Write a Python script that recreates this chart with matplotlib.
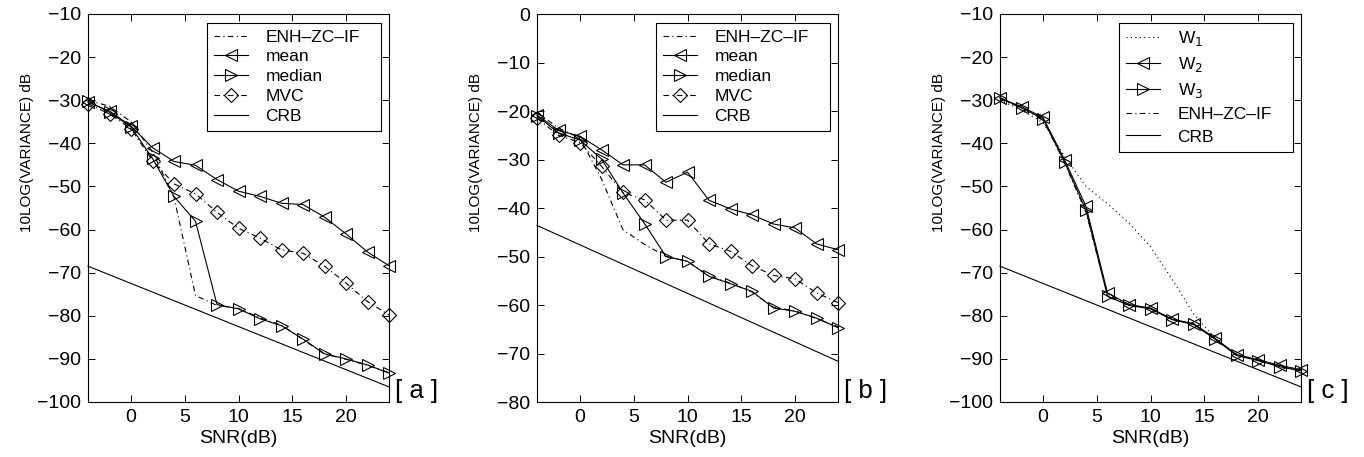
import matplotlib
matplotlib.use("Agg")
import matplotlib.pyplot as plt

plt.rcParams['font.family'] = ['Liberation Sans', 'DejaVu Sans']

snr = [-4, -2, 0, 2, 4, 6, 8, 10, 12, 14, 16, 18, 20, 22, 24]

# Panel a
enh_a = [-30.0, -31.4, -35.0, -42.0, -52.5, -75.3, -77.6, -78.3, -80.5, -82.2, -85.5, -88.9, -90.1, -91.5, -93.2]
mean_a = [-30.5, -32.5, -36.0, -41.0, -44.2, -45.1, -48.4, -51.1, -52.3, -53.9, -54.2, -57.1, -61.0, -65.2, -68.4]
median_a = [-30.2, -32.8, -36.2, -43.5, -52.3, -58.1, -77.4, -78.4, -80.7, -82.3, -85.4, -88.8, -90.0, -91.4, -93.3]
mvc_a = [-30.8, -33.2, -36.6, -44.0, -49.4, -51.7, -56.0, -59.7, -62.0, -64.7, -65.5, -68.5, -72.4, -76.7, -79.8]
crb_a = [-68.5, -70.5, -72.5, -74.5, -76.5, -78.5, -80.5, -82.5, -84.5, -86.5, -88.5, -90.5, -92.5, -94.5, -96.5]

# Panel b
enh_b = [-20.3, -23.5, -25.6, -34.0, -44.5, -47.5, -50.0, -51.0, -54.0, -55.5, -57.3, -60.5, -61.2, -62.8, -64.5]
mean_b = [-20.8, -24.0, -25.2, -28.0, -31.1, -31.1, -34.7, -32.6, -38.4, -40.2, -41.4, -43.3, -44.1, -47.4, -48.6]
median_b = [-21.0, -24.5, -26.0, -29.9, -36.9, -43.2, -50.0, -51.0, -54.1, -55.6, -57.2, -60.6, -61.3, -62.7, -64.7]
mvc_b = [-21.5, -25.0, -26.5, -31.4, -36.8, -38.3, -42.5, -42.5, -47.4, -48.9, -51.9, -53.9, -54.6, -57.5, -59.5]
crb_b = [-43.6, -45.6, -47.6, -49.6, -51.6, -53.6, -55.6, -57.6, -59.6, -61.6, -63.6, -65.6, -67.6, -69.6, -71.6]

# Panel c
w1_c = [-30.0, -32.3, -35.2, -43.0, -50.0, -54.0, -58.5, -64.0, -71.5, -79.5, -85.2, -89.0, -90.2, -91.6, -92.6]
w2_c = [-29.5, -31.5, -34.0, -43.8, -54.6, -74.7, -77.4, -78.2, -80.8, -81.8, -85.2, -89.0, -90.2, -91.5, -92.5]
w3_c = [-29.4, -31.8, -34.3, -44.3, -55.5, -75.5, -77.6, -78.4, -80.9, -82.0, -85.4, -89.2, -90.4, -91.8, -92.8]
enh_c = [-29.8, -31.7, -34.5, -44.5, -56.0, -75.0, -77.5, -78.3, -80.8, -82.0, -85.3, -89.1, -90.3, -91.7, -92.7]
crb_c = [-68.5, -70.5, -72.5, -74.5, -76.5, -78.5, -80.5, -82.5, -84.5, -86.5, -88.5, -90.5, -92.5, -94.5, -96.5]

ylims = [(-100, -10), (-80, 0), (-100, -10)]
panel_tags = ['[ a ]', '[ b ]', '[ c ]']

DASHDOT = (0, (5, 3, 1, 3))
LW = 0.8
MS = 9
mk = dict(markerfacecolor='none', markeredgecolor='black', markeredgewidth=0.8, markersize=MS)

fig = plt.figure(figsize=(13.64, 4.57), dpi=100)
lefts = [88 / 1364, 537 / 1364, 1000 / 1364]
width = 301 / 1364
bottom = 1 - 402 / 457
height = (402 - 14) / 457

axes = [fig.add_axes([l, bottom, width, height]) for l in lefts]

def style(ax, ylim, tag):
    ax.set_xlim(-4, 24)
    ax.set_ylim(*ylim)
    ax.set_xticks([0, 5, 10, 15, 20])
    ax.set_yticks(range(ylim[0], ylim[1] + 1, 10))
    ax.tick_params(direction='in', top=True, right=True, length=5, width=0.7,
                   labelsize=14, pad=5)
    for s in ax.spines.values():
        s.set_linewidth(0.8)
    ax.set_xlabel('SNR(dB)', fontsize=14, labelpad=3)
    ax.set_ylabel('10LOG(VARIANCE) dB', fontsize=11)
    ax.yaxis.set_label_coords(-0.178, 0.642)
    ax.text(1.02, 0.029, tag, transform=ax.transAxes, fontsize=18.5,
            ha='left', va='center')

def legend(ax, spacing):
    leg = ax.legend(loc='upper left', bbox_to_anchor=(0.394, 0.7, 0.578, 0.278),
                    mode='expand', borderaxespad=0, fancybox=False, framealpha=1,
                    edgecolor='black', fontsize=12.5, handlelength=2.0,
                    labelspacing=spacing, handletextpad=1.0, borderpad=0.4)
    leg.get_frame().set_linewidth(0.8)

# Panel a and b
for ax, enh, mean, median, mvc, crb in [
        (axes[0], enh_a, mean_a, median_a, mvc_a, crb_a),
        (axes[1], enh_b, mean_b, median_b, mvc_b, crb_b)]:
    ax.plot(snr, enh, color='black', lw=LW, linestyle=DASHDOT, label='ENH\u2013ZC\u2013IF', clip_on=False)
    ax.plot(snr, mean, color='black', lw=LW, marker='<', label='mean', clip_on=False, **mk)
    ax.plot(snr, median, color='black', lw=LW, marker='>', label='median', clip_on=False, **mk)
    ax.plot(snr, mvc, color='black', lw=LW, linestyle=DASHDOT, marker='D', label='MVC',
            clip_on=False, markerfacecolor='none', markeredgecolor='black',
            markeredgewidth=0.8, markersize=7)
    ax.plot(snr, crb, color='black', lw=LW, label='CRB', clip_on=False)

# Panel c
ax = axes[2]
ax.plot(snr, w1_c, color='black', lw=LW, linestyle=(0, (1, 3)), label='W$_1$', clip_on=False)
ax.plot(snr, w2_c, color='black', lw=LW, marker='<', label='W$_2$', clip_on=False, **mk)
ax.plot(snr, w3_c, color='black', lw=LW, marker='>', label='W$_3$', clip_on=False, **mk)
ax.plot(snr, enh_c, color='black', lw=LW, linestyle=DASHDOT, label='ENH\u2013ZC\u2013IF', clip_on=False)
ax.plot(snr, crb_c, color='black', lw=LW, label='CRB', clip_on=False)

for ax, yl, tag, sp in zip(axes, ylims, panel_tags, [0.27, 0.27, 0.4]):
    style(ax, yl, tag)
    legend(ax, sp)

fig.savefig('out.png', dpi=100)
